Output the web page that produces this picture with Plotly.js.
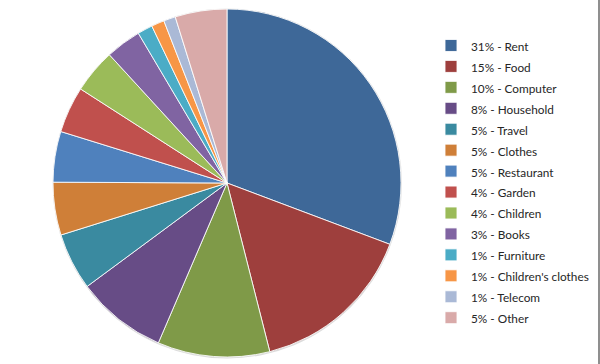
<!DOCTYPE html>
<html>
<head>
<meta charset="utf-8">
<script src="https://cdn.plot.ly/plotly-3.0.1.min.js"></script>
<style>
  html, body { margin: 0; padding: 0; background: #ffffff; }
  #wrap { position: relative; width: 600px; height: 364px; overflow: hidden; }
  #chart { width: 600px; height: 364px; }
  #edge { position: absolute; left: 598px; top: 0; width: 2px; height: 364px; background: #8f8f8f; }
</style>
</head>
<body>
<div id="wrap">
  <div id="chart"></div>
  <div id="edge"></div>
</div>
<script>
// Data
const categories = ["Rent", "Food", "Computer", "Household", "Travel", "Clothes", "Restaurant",
                    "Garden", "Children", "Books", "Furniture", "Children's clothes", "Telecom", "Other"];
const percentLabels = ["31%", "15%", "10%", "8%", "5%", "5%", "5%", "4%", "4%", "3%", "1%", "1%", "1%", "5%"];
const values = [30.7, 15.3, 10.4, 8.4, 5.3, 4.9, 4.7, 4.3, 4.1, 3.3, 1.4, 1.2, 1.1, 4.8];
const colors = ["#3e6898", "#9e3f3d", "#7f9a48", "#674c86", "#3a8aa0", "#cf7f38", "#4f81bd",
                "#c0504d", "#9bbb59", "#8064a2", "#4bacc6", "#f79646", "#aab9d6", "#d9aaa9"];

const legendLabels = categories.map((c, i) =>
  '<span style="font-size:11.8px">' + percentLabels[i] + " - " + c + "</span>");

// layout geometry (pixels)
const W = 600, H = 364;
const cx = 227, cy = 183, r = 174;

const trace = {
  type: "pie",
  labels: legendLabels,
  values: values,
  sort: false,
  direction: "clockwise",
  rotation: 0,
  textinfo: "none",
  hoverinfo: "label+value",
  marker: { colors: colors, line: { color: "rgba(255,255,255,0.85)", width: 1 } },
  domain: {
    x: [(cx - r) / W, (cx + r) / W],
    y: [(H - cy - r) / H, (H - cy + r) / H]
  }
};

const layout = {
  width: W,
  height: H,
  margin: { l: 0, r: 0, t: 0, b: 0, pad: 0, autoexpand: false },
  paper_bgcolor: "#ffffff",
  showlegend: true,
  legend: {
    x: 431 / W,
    xanchor: "left",
    y: 1 - 30 / H,
    yanchor: "top",
    font: { family: "Lato, 'Liberation Sans', sans-serif", size: 13.8, color: "#262626" },
    bgcolor: "rgba(0,0,0,0)",
    borderwidth: 0
  },
  shapes: [{
    type: "circle",
    xref: "paper", yref: "paper",
    x0: (cx - r - 0.5) / W, x1: (cx + r + 1) / W,
    y0: (H - cy - r - 1.5) / H, y1: (H - cy + r + 0.5) / H,
    fillcolor: "rgba(0,0,0,0.14)",
    line: { width: 0 },
    layer: "below"
  }]
};

Plotly.newPlot("chart", [trace], layout, { displayModeBar: false, staticPlot: true });
</script>
</body>
</html>
